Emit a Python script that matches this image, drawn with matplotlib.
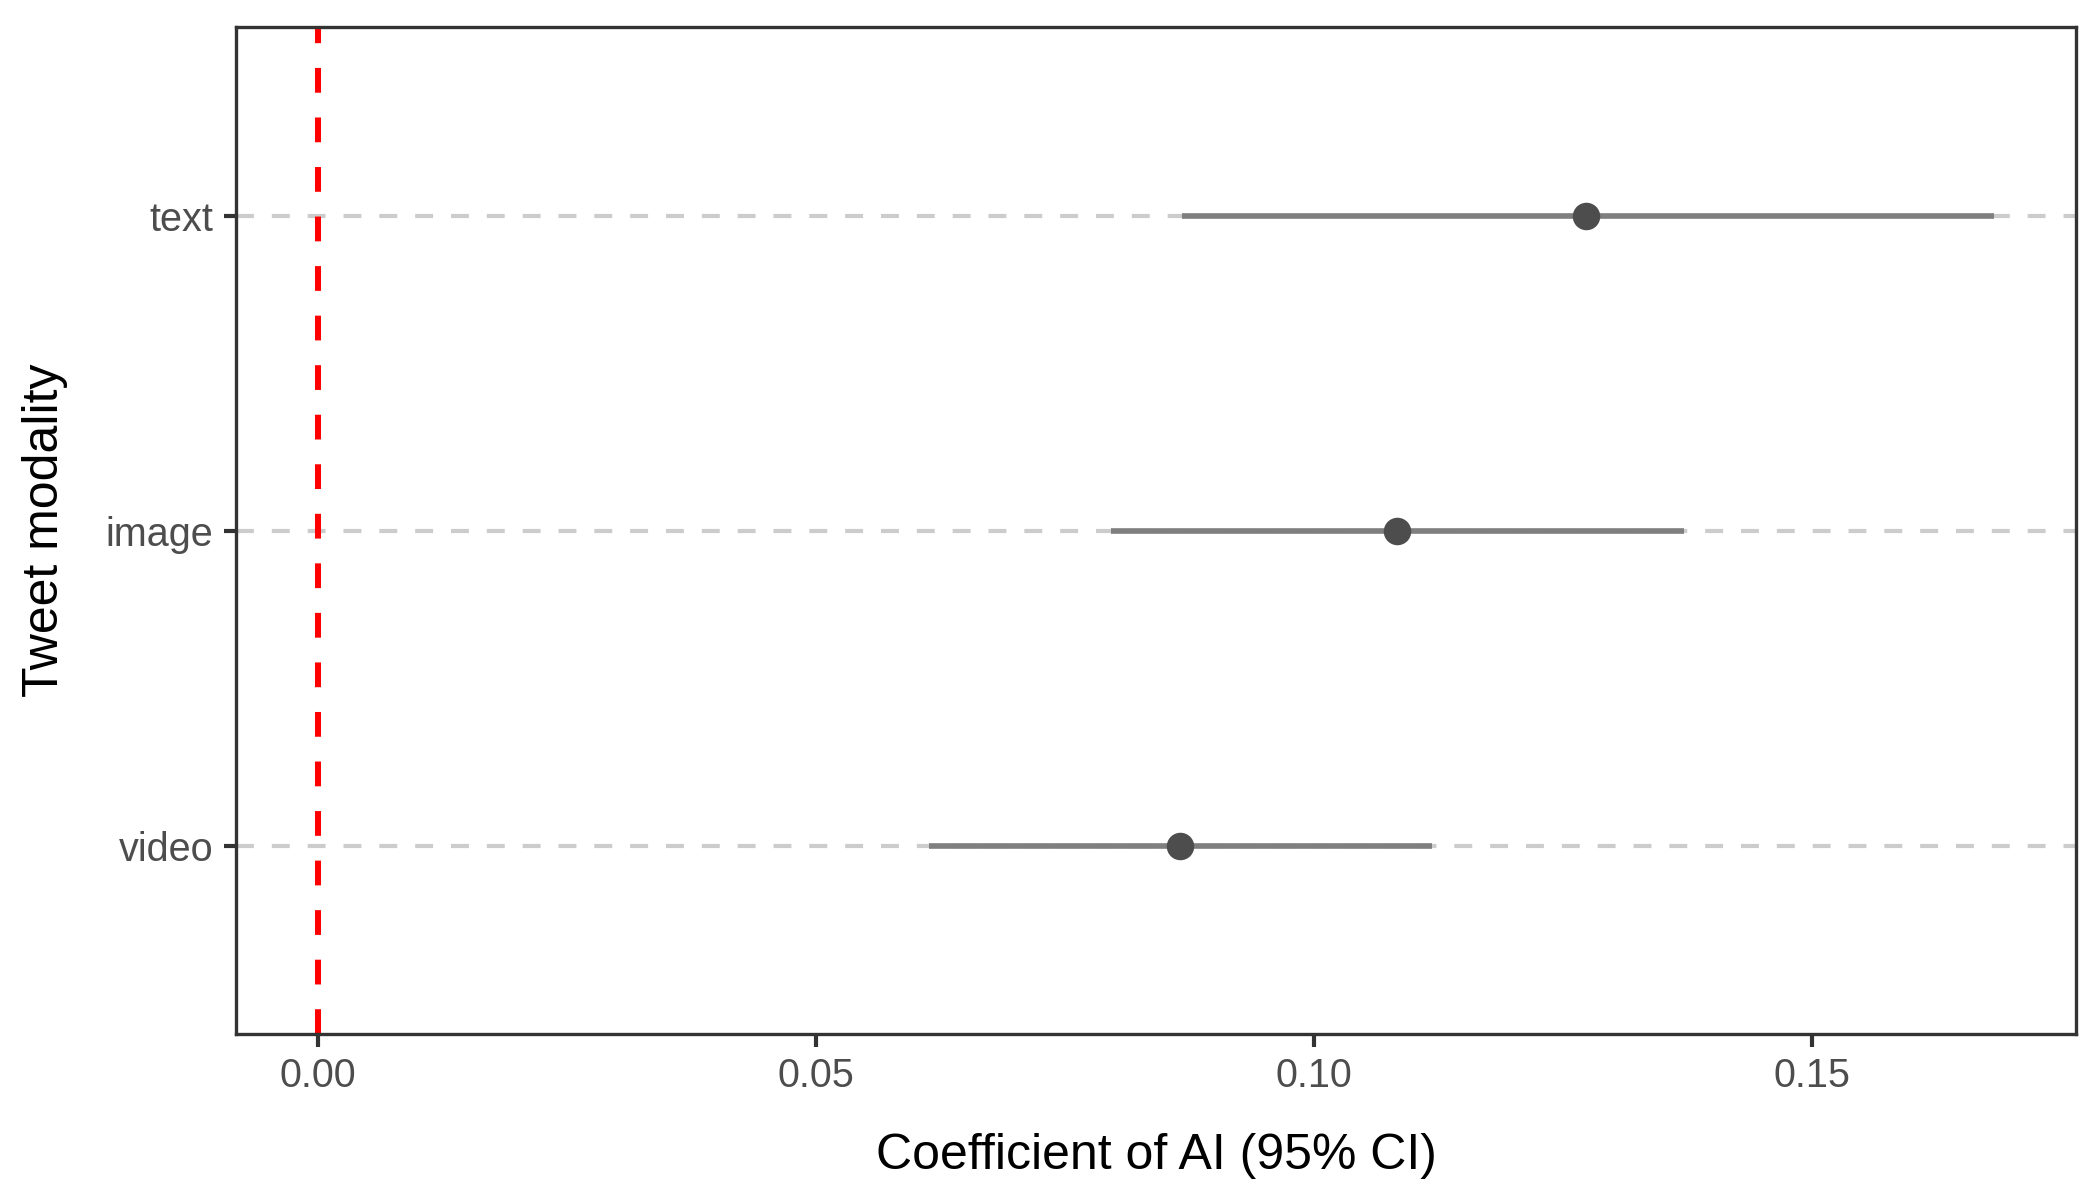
import matplotlib
matplotlib.use("Agg")
import matplotlib.pyplot as plt

plt.rcParams['font.family'] = ['Liberation Sans', 'DejaVu Sans']

# coefficient of AI by tweet modality (bottom to top)
modality = ['video', 'image', 'text']
estimate = [0.0865, 0.1083, 0.1273]
ci_low = [0.0613, 0.0796, 0.0867]
ci_high = [0.1118, 0.1371, 0.1683]

fig = plt.figure(figsize=(7, 4), dpi=300)
ax = fig.add_axes([0.1124, 0.138, 0.8762, 0.8395])

ypos = list(range(1, len(modality) + 1))

# dashed guide lines at each category
for y in ypos:
    ax.axhline(y, color='#cccccc', lw=1.0, ls=(0, (4.3, 4.3)), zorder=1)

ax.axvline(0, color='#ff0000', lw=1.45, ls=(0, (4.1, 4.1)), zorder=2)

ax.hlines(ypos, ci_low, ci_high, color='#7f7f7f', lw=1.35, zorder=3)
ax.plot(estimate, ypos, 'o', color='#4d4d4d', ms=6.6, mew=0, zorder=4)

ax.set_xlim(-0.00823, 0.1765)
ax.set_ylim(0.4, 3.6)
ax.set_xticks([0.0, 0.05, 0.10, 0.15])
ax.set_xticklabels(['0.00', '0.05', '0.10', '0.15'])
ax.set_yticks(ypos)
ax.set_yticklabels(modality)

ax.tick_params(axis='both', colors='#333333', labelcolor='#4d4d4d',
               labelsize=9.5, length=3.0, width=1.0, pad=2.5)
for s in ax.spines.values():
    s.set_color('#333333')
    s.set_linewidth(0.8)

ax.set_xlabel('Coefficient of AI (95% CI)', fontsize=12, labelpad=9)
ax.set_ylabel('Tweet modality', fontsize=12, labelpad=9)

fig.savefig('out.png', dpi=300, facecolor='white')
